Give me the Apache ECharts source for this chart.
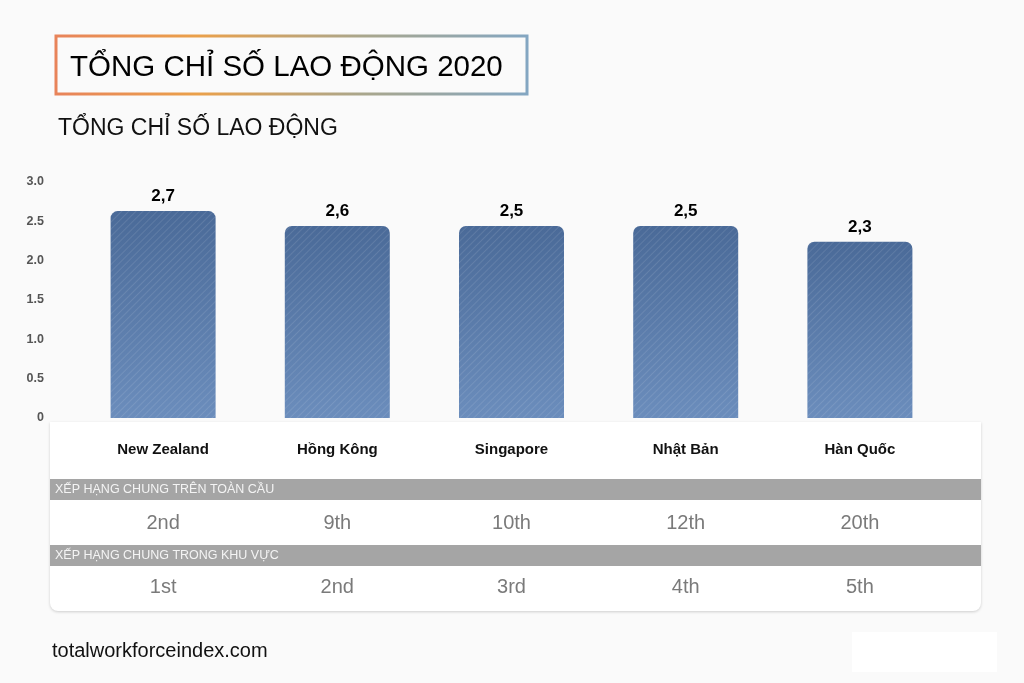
<!DOCTYPE html>
<html>
<head>
<meta charset="utf-8">
<script src="https://cdn.jsdelivr.net/npm/echarts@6/dist/echarts.min.js"></script>
<style>
  html, body { margin: 0; padding: 0; background: #fafafa; }
  #main { width: 1024px; height: 683px; }
</style>
</head>
<body>
<div id="main"></div>
<script>
// dữ liệu
const countries = ['New Zealand', 'Hồng Kông', 'Singapore', 'Nhật Bản', 'Hàn Quốc'];
const scores = [2.63, 2.44, 2.44, 2.44, 2.24];
const scoreLabels = ['2,7', '2,6', '2,5', '2,5', '2,3'];
const globalRank = ['2nd', '9th', '10th', '12th', '20th'];
const regionRank = ['1st', '2nd', '3rd', '4th', '5th'];
const yTicks = ['0', '0.5', '1.0', '1.5', '2.0', '2.5', '3.0'];

const font = 'Liberation Sans, Arial, sans-serif';
let myChart = echarts.init(document.getElementById('main'));

myChart.setOption({
  backgroundColor: '#fafafa',
  animation: false,
  grid: { left: 76, right: 77, top: 182, bottom: 265 },
  xAxis: [
    {
      type: 'category',
      data: countries,
      axisLine: { show: false },
      axisTick: { show: false },
      axisLabel: { margin: 24, color: '#111', fontWeight: 'bold', fontSize: 15, fontFamily: font }
    },
    {
      type: 'category',
      data: globalRank,
      position: 'bottom',
      offset: 95,
      axisLine: { show: false },
      axisTick: { show: false },
      axisLabel: { margin: 0, color: '#7a7a7a', fontSize: 20, fontFamily: font }
    },
    {
      type: 'category',
      data: regionRank,
      position: 'bottom',
      offset: 159,
      axisLine: { show: false },
      axisTick: { show: false },
      axisLabel: { margin: 0, color: '#7a7a7a', fontSize: 20, fontFamily: font }
    }
  ],
  yAxis: {
    type: 'value',
    min: 0,
    max: 3,
    interval: 0.5,
    splitLine: { show: false },
    axisLine: { show: false },
    axisTick: { show: false },
    axisLabel: {
      margin: 32,
      color: '#555',
      fontWeight: 'bold',
      fontSize: 12.5,
      fontFamily: font,
      formatter: (v) => yTicks[Math.round(v * 2)]
    }
  },
  series: [{
    type: 'bar',
    data: scores,
    barWidth: 105,
    itemStyle: {
      borderRadius: [7, 7, 0, 0],
      color: new echarts.graphic.LinearGradient(0, 0, 0, 1, [
        { offset: 0, color: '#4a6a98' },
        { offset: 1, color: '#6b8dbc' }
      ]),
      decal: {
        symbol: 'rect',
        color: 'rgba(255,255,255,0.1)',
        dashArrayX: [1, 0],
        dashArrayY: [1, 4],
        rotation: -Math.PI / 4
      }
    },
    label: {
      show: true,
      position: 'top',
      distance: 6,
      color: '#000',
      fontWeight: 'bold',
      fontSize: 17,
      fontFamily: font,
      formatter: (p) => scoreLabels[p.dataIndex]
    }
  }],
  graphic: [
    {
      type: 'rect',
      z: -1,
      shape: { x: 56, y: 36, width: 471, height: 58 },
      style: {
        fill: '#fafafa',
        lineWidth: 3,
        stroke: new echarts.graphic.LinearGradient(0, 0, 1, 0, [
          { offset: 0, color: '#e8835a' },
          { offset: 0.3, color: '#eaa04a' },
          { offset: 0.65, color: '#a9a68c' },
          { offset: 1, color: '#83a6c2' }
        ])
      }
    },
    {
      type: 'text', left: 70, top: 53,
      style: { text: 'TỔNG CHỈ SỐ LAO ĐỘNG 2020', fill: '#000', font: '29.5px ' + font }
    },
    {
      type: 'text', left: 58, top: 117,
      style: { text: 'TỔNG CHỈ SỐ LAO ĐỘNG', fill: '#111', font: '23px ' + font }
    },
    {
      type: 'rect', z: -1,
      shape: { x: 50, y: 422, width: 931, height: 189, r: [0, 0, 8, 8] },
      style: { fill: '#fff', shadowBlur: 3, shadowColor: 'rgba(0,0,0,0.18)', shadowOffsetY: 1 }
    },
    {
      type: 'rect', z: -1,
      shape: { x: 50, y: 479, width: 931, height: 21 },
      style: { fill: '#a5a5a5' }
    },
    {
      type: 'rect', z: -1,
      shape: { x: 50, y: 545, width: 931, height: 21 },
      style: { fill: '#a5a5a5' }
    },
    {
      type: 'text', left: 55, top: 483,
      style: { text: 'XẾP HẠNG CHUNG TRÊN TOÀN CẦU', fill: '#f4f4f4', font: '12.5px ' + font }
    },
    {
      type: 'text', left: 55, top: 549,
      style: { text: 'XẾP HẠNG CHUNG TRONG KHU VỰC', fill: '#f4f4f4', font: '12.5px ' + font }
    },
    {
      type: 'text', left: 52, top: 641,
      style: { text: 'totalworkforceindex.com', fill: '#111', font: '20px ' + font }
    },
    {
      type: 'rect', z: -1,
      shape: { x: 852, y: 632, width: 145, height: 40 },
      style: { fill: '#fff' }
    }
  ]
});

window.onresize = function () {
  myChart.resize();
};
</script>
</body>
</html>
